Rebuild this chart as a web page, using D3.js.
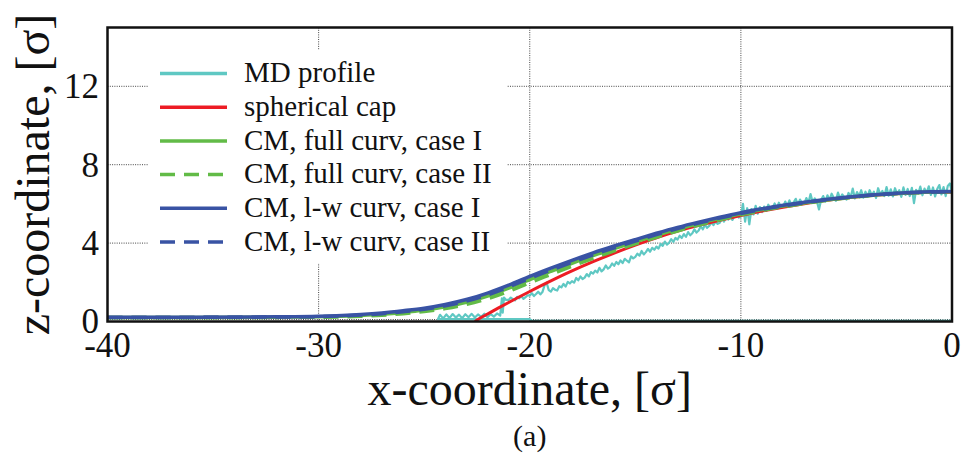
<!DOCTYPE html>
<html>
<head>
<meta charset="utf-8">
<script src="https://cdn.jsdelivr.net/npm/d3@7/dist/d3.min.js"></script>
<style>
  html, body { margin: 0; padding: 0; background: #fff; }
  svg { display: block; }
</style>
</head>
<body>
<svg id="chart" width="963" height="453"></svg>
<script>
// ---- axis ticks ----
const xTicks = [-40, -30, -20, -10, 0];
const zTicks = [0, 4, 8, 12];

// ---- legend ----
const seriesNames = ["MD profile", "spherical cap", "CM, full curv, case I",
  "CM, full curv, case II", "CM, l-w curv, case I", "CM, l-w curv, case II"];

// ---- spherical cap fit ----
const capX = [-22.6, -22.3, -22, -21.5, -21, -20, -19, -18, -17, -16, -15, -14, -13, -12, -11, -10,
  -9, -8, -7, -6, -5, -4, -3, -2, -1, 0];
const capZ = [0.0, 0.2, 0.38, 0.68, 0.97, 1.53, 2.07, 2.58, 3.05, 3.49, 3.90, 4.27, 4.61, 4.91, 5.17, 5.41,
  5.63, 5.83, 6.01, 6.17, 6.30, 6.41, 6.49, 6.55, 6.59, 6.60];

// ---- capillary-model profiles ----
const cmX = [-40, -36, -32, -30, -28, -27, -26, -25, -24, -23, -22, -21, -20, -19, -18, -17, -16,
  -15, -14, -13, -12, -11, -10, -9, -8, -7, -6, -5, -4, -3, -2, -1, 0];
const lwCaseI = [0.22, 0.22, 0.24, 0.27, 0.36, 0.44, 0.55, 0.68, 0.87, 1.12, 1.45, 1.85, 2.30, 2.72,
  3.12, 3.50, 3.85, 4.18, 4.50, 4.80, 5.07, 5.32, 5.55, 5.75, 5.93, 6.08, 6.22, 6.34, 6.44, 6.52,
  6.58, 6.62, 6.63];
const lwCaseII = [0.21, 0.21, 0.23, 0.25, 0.33, 0.40, 0.50, 0.62, 0.80, 1.04, 1.36, 1.76, 2.20, 2.62,
  3.02, 3.40, 3.76, 4.10, 4.43, 4.74, 5.02, 5.28, 5.51, 5.72, 5.90, 6.06, 6.20, 6.33, 6.43, 6.51,
  6.57, 6.61, 6.62];
const fullCaseI = [0.21, 0.21, 0.22, 0.24, 0.31, 0.37, 0.46, 0.58, 0.75, 0.98, 1.30, 1.70, 2.14, 2.56,
  2.97, 3.36, 3.72, 4.07, 4.40, 4.71, 5.00, 5.26, 5.50, 5.71, 5.89, 6.05, 6.19, 6.32, 6.43, 6.51,
  6.57, 6.61, 6.62];
const fullCaseII = [0.20, 0.20, 0.21, 0.22, 0.27, 0.32, 0.40, 0.51, 0.66, 0.87, 1.16, 1.54, 1.98, 2.40,
  2.82, 3.22, 3.60, 3.96, 4.30, 4.62, 4.92, 5.19, 5.44, 5.66, 5.85, 6.02, 6.17, 6.30, 6.41, 6.50,
  6.56, 6.60, 6.62];

// ---- MD density profile: substrate edge, foot, and the noisy interface ----
const mdBaseX = [0, -10, -19.9, -20.0, -24.35];
const mdBaseZ = [0.03, 0.03, 0.04, 0.12, 0.12];
const mdFootX = [-24.35, -24.25, -24.1, -23.95, -23.8, -23.65, -23.5, -23.35, -23.2, -23.05, -22.9,
  -22.75, -22.6, -22.45, -22.3, -22.15, -22.0, -21.85, -21.7, -21.55, -21.4, -21.32, -21.28, -21.22, -21.12];
const mdFootZ = [0.12, 0.34, 0.16, 0.36, 0.18, 0.38, 0.2, 0.35, 0.17, 0.37, 0.22, 0.39, 0.2, 0.36,
  0.24, 0.4, 0.22, 0.38, 0.25, 0.41, 0.3, 1.18, 0.45, 1.22, 1.1];
// interface samples every 0.1 sigma from x = -21.0 to 0
const mdCapStart = -21.0, mdCapStep = 0.1;
const mdCapZ = [
  1.10, 1.22, 1.14, 1.08, 1.26, 1.18, 1.30, 1.15, 1.24, 1.34,
  1.32, 1.44, 1.30, 1.40, 1.52, 1.38, 1.50, 1.84, 1.98, 1.60,
  1.52, 1.70, 1.62, 1.58, 1.80, 1.74, 1.92, 1.78, 2.02, 1.94,
  2.06, 1.98, 2.22, 2.10, 2.30, 2.16, 2.24, 2.42, 2.30, 2.52,
  2.44, 2.60, 2.50, 2.74, 2.56, 2.66, 2.86, 2.70, 2.78, 2.96,
  2.84, 3.04, 2.92, 3.12, 2.98, 3.20, 3.10, 3.02, 3.32, 3.22,
  3.30, 3.46, 3.36, 3.60, 3.42, 3.54, 3.70, 3.56, 3.76, 3.66,
  3.82, 3.72, 3.96, 3.86, 4.08, 3.92, 4.02, 4.20, 4.06, 4.26,
  4.18, 4.38, 4.26, 4.46, 4.32, 4.56, 4.40, 4.50, 4.70, 4.54,
  4.64, 4.86, 4.70, 4.94, 4.78, 4.88, 5.06, 4.92, 5.10, 4.98,
  5.04, 5.26, 5.10, 5.32, 5.20, 5.44, 5.18, 5.38, 5.52, 5.30,
  5.36, 6.00, 5.10, 5.78, 4.96, 5.74, 5.46, 5.90, 5.50, 5.84,
  5.58, 5.86, 5.64, 5.96, 5.70, 5.80, 6.02, 5.76, 6.06, 5.84,
  5.86, 6.12, 5.90, 6.18, 5.96, 6.08, 6.26, 5.98, 6.22, 6.04,
  6.00, 6.30, 6.06, 6.50, 6.10, 6.28, 6.14, 5.72, 6.20, 6.40,
  6.12, 6.44, 6.20, 6.52, 6.30, 6.16, 6.58, 6.26, 6.48, 6.34,
  6.22, 6.56, 6.34, 6.78, 6.28, 6.60, 6.40, 6.70, 6.32, 6.62,
  6.36, 6.70, 6.44, 6.62, 6.30, 6.80, 6.48, 6.66, 6.40, 6.86,
  6.42, 6.74, 6.38, 6.80, 6.50, 6.70, 6.36, 6.84, 6.46, 6.76,
  6.40, 6.82, 6.04, 6.72, 6.52, 6.88, 6.44, 6.78, 6.56, 6.90,
  6.46, 6.84, 6.38, 6.76, 6.96, 6.48, 6.86, 6.40, 6.92, 7.04,
  6.60
];

// ---- drawing ----
const colors = { md: "#5fc8c3", cap: "#ed1c24", green: "#62bb47", blue: "#3953a4" };
const serif = "'Liberation Serif', 'Times New Roman', Times, serif";

const svg = d3.select("#chart").attr("font-family", serif);
const plot = { left: 107.5, right: 952, top: 27.5, bottom: 321.5 };

const x = d3.scaleLinear().domain([-40, 0]).range([plot.left, plot.right]);
const z = d3.scaleLinear().domain([0, 15]).range([plot.bottom, plot.top]);

svg.append("defs").append("clipPath").attr("id", "plotClip")
  .append("rect")
  .attr("x", plot.left).attr("y", plot.top)
  .attr("width", plot.right - plot.left).attr("height", plot.bottom - plot.top);

// dotted grid
const grid = svg.append("g").attr("stroke", "#444").attr("stroke-width", 1)
  .attr("stroke-dasharray", "1,1.3");
grid.selectAll("line.gx").data(xTicks).join("line").attr("class", "gx")
  .attr("x1", d => x(d)).attr("x2", d => x(d))
  .attr("y1", plot.top).attr("y2", plot.bottom);
grid.selectAll("line.gz").data(zTicks).join("line").attr("class", "gz")
  .attr("x1", plot.left).attr("x2", plot.right)
  .attr("y1", d => z(d) - (d === 0 ? 2 : 0)).attr("y2", d => z(d) - (d === 0 ? 2 : 0));

// legend backdrop hides the grid behind the key
svg.append("rect").attr("x", 148).attr("y", 50).attr("width", 359).attr("height", 213)
  .attr("fill", "#fff");

// series
const curves = svg.append("g").attr("clip-path", "url(#plotClip)").attr("fill", "none");

const mdPts = [];
mdBaseX.forEach((v, i) => mdPts.push([v, mdBaseZ[i]]));
mdFootX.forEach((v, i) => mdPts.push([v, mdFootZ[i]]));
mdCapZ.forEach((v, i) => mdPts.push([mdCapStart + i * mdCapStep, v]));

const lineXY = d3.line().x(d => x(d[0])).y(d => z(d[1]));
const smooth = d3.line().x(d => x(d[0])).y(d => z(d[1])).curve(d3.curveMonotoneX);

curves.append("path").datum(mdPts).attr("d", lineXY)
  .attr("stroke", colors.md).attr("stroke-width", 2.2).attr("stroke-linejoin", "round");

curves.append("path").datum(capX.map((v, i) => [v, capZ[i]])).attr("d", smooth)
  .attr("stroke", colors.cap).attr("stroke-width", 3);

const cmSeries = [
  { z: fullCaseI, color: colors.green, dash: null },
  { z: fullCaseII, color: colors.green, dash: "15,9" },
  { z: lwCaseI, color: colors.blue, dash: null },
  { z: lwCaseII, color: colors.blue, dash: "15,9" }
];
cmSeries.forEach(s => {
  curves.append("path").datum(cmX.map((v, i) => [v, s.z[i]])).attr("d", smooth)
    .attr("stroke", s.color).attr("stroke-width", 3.5)
    .attr("stroke-dasharray", s.dash);
});

// frame
svg.append("rect")
  .attr("x", plot.left).attr("y", plot.top)
  .attr("width", plot.right - plot.left).attr("height", plot.bottom - plot.top)
  .attr("fill", "none").attr("stroke", "#111").attr("stroke-width", 2.5);

// tick labels
svg.append("g").selectAll("text").data(xTicks).join("text")
  .attr("x", d => x(d)).attr("y", 357)
  .attr("text-anchor", "middle").attr("font-size", 35).attr("fill", "#111")
  .text(d => d);
svg.append("g").selectAll("text").data(zTicks).join("text")
  .attr("x", 99).attr("y", d => z(d)).attr("dy", "0.34em")
  .attr("text-anchor", "end").attr("font-size", 35).attr("fill", "#111")
  .text(d => d);

// axis titles and panel label
svg.append("text").attr("x", (plot.left + plot.right) / 2).attr("y", 405)
  .attr("text-anchor", "middle").attr("font-size", 48).attr("fill", "#111")
  .text("x-coordinate, [σ]");
svg.append("text")
  .attr("transform", `translate(49,${(plot.top + plot.bottom) / 2}) rotate(-90)`)
  .attr("text-anchor", "middle").attr("font-size", 48).attr("fill", "#111")
  .text("z-coordinate, [σ]");
svg.append("text").attr("x", (plot.left + plot.right) / 2).attr("y", 446)
  .attr("text-anchor", "middle").attr("font-size", 30).attr("fill", "#111")
  .text("(a)");

// legend
const legendStyles = [
  { color: colors.md, dash: null },
  { color: colors.cap, dash: null },
  { color: colors.green, dash: null },
  { color: colors.green, dash: "15,9" },
  { color: colors.blue, dash: null },
  { color: colors.blue, dash: "15,9" }
];
const ly = d3.scalePoint().domain(seriesNames).range([73.5, 242]);
const legend = svg.append("g");
const rows = legend.selectAll("g").data(seriesNames).join("g")
  .attr("transform", d => `translate(0,${ly(d)})`);
rows.append("line").attr("x1", 160).attr("x2", 227).attr("y1", 0).attr("y2", 0)
  .attr("stroke", (d, i) => legendStyles[i].color).attr("stroke-width", 3.5)
  .attr("stroke-dasharray", (d, i) => legendStyles[i].dash);
rows.append("text").attr("x", 244).attr("y", 0).attr("dy", "0.3em")
  .attr("font-size", 29).attr("fill", "#111").text(d => d);
</script>
</body>
</html>
